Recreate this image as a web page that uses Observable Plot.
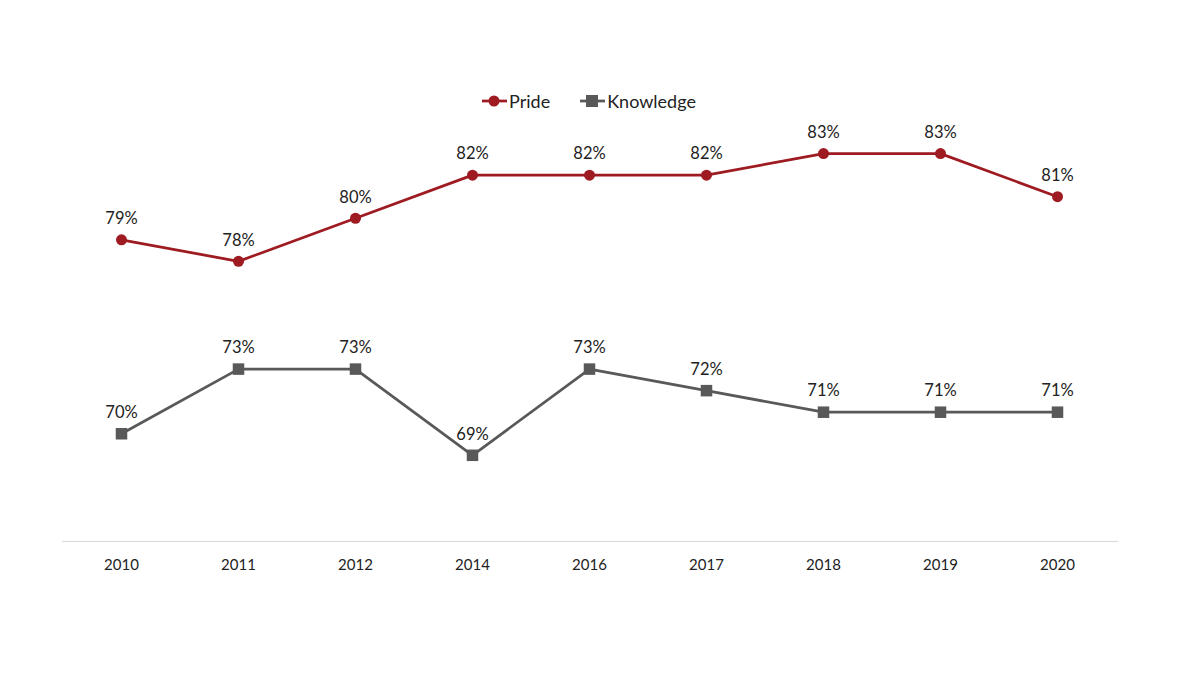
<!DOCTYPE html>
<html>
<head>
<meta charset="utf-8">
<script src="https://cdn.jsdelivr.net/npm/d3@7"></script>
<script src="https://cdn.jsdelivr.net/npm/@observablehq/plot@0.6"></script>
<style>
  body { margin: 0; background: #fff; font-family: Lato, "Open Sans", sans-serif; }
  #wrap { position: relative; width: 1200px; height: 675px; }
  #legend { position: absolute; top: 90px; left: 0; width: 1178px; display: flex; justify-content: center; gap: 30px; font-size: 18px; color: #222; }
  #legend .item { display: flex; align-items: center; gap: 2px; }
</style>
</head>
<body>
<div id="wrap">
  <div id="chart"></div>
  <div id="legend"></div>
</div>
<script>
const years = ["2010", "2011", "2012", "2014", "2016", "2017", "2018", "2019", "2020"];
const pride = [79, 78, 80, 82, 82, 82, 83, 83, 81];
const knowledge = [70, 73, 73, 69, 73, 72, 71, 71, 71];
const seriesNames = ["Pride", "Knowledge"];
const seriesColors = ["#9E1B22", "#595959"];

const data = [];
years.forEach((y, i) => {
  data.push({year: y, value: pride[i], series: seriesNames[0]});
  data.push({year: y, value: knowledge[i], series: seriesNames[1]});
});
const prideData = data.filter(d => d.series === "Pride");
const knowData = data.filter(d => d.series === "Knowledge");

const chart = Plot.plot({
  width: 1200,
  height: 675,
  marginLeft: 62,
  marginRight: 82,
  marginTop: 110,
  marginBottom: 134,
  style: {fontFamily: "Lato, 'Open Sans', sans-serif", background: "#fff"},
  x: {type: "point", domain: years, padding: 0, range: [119, 1059], label: null},
  y: {domain: [65, 85], axis: null},
  marks: [
    Plot.ruleY([65], {stroke: "#d9d9d9", strokeWidth: 1}),
    Plot.axisX({tickSize: 0, tickPadding: 18, fontSize: 15, fill: "#222", label: null}),
    Plot.line(prideData, {x: "year", y: "value", stroke: seriesColors[0], strokeWidth: 2.75}),
    Plot.line(knowData, {x: "year", y: "value", stroke: seriesColors[1], strokeWidth: 2.75}),
    Plot.dot(prideData, {x: "year", y: "value", r: 5.5, fill: seriesColors[0], stroke: null}),
    Plot.dot(knowData, {x: "year", y: "value", symbol: "square", r: 6.5, fill: seriesColors[1], stroke: null}),
    Plot.text(data, {x: "year", y: "value", text: d => d.value + "%", dy: -21, fontSize: 16.5, fill: "#222"})
  ]
});
document.getElementById("chart").appendChild(chart);

const legend = document.getElementById("legend");
seriesNames.forEach((name, i) => {
  const item = document.createElement("div");
  item.className = "item";
  const marker = i === 0
    ? `<circle cx="12" cy="8" r="5.5" fill="${seriesColors[i]}"/>`
    : `<rect x="6" y="2" width="12" height="12" fill="${seriesColors[i]}"/>`;
  item.innerHTML = `<svg width="25" height="16"><line x1="0" x2="25" y1="8" y2="8" stroke="${seriesColors[i]}" stroke-width="2.75"/>${marker}</svg><span>${name}</span>`;
  legend.appendChild(item);
});
</script>
</body>
</html>
